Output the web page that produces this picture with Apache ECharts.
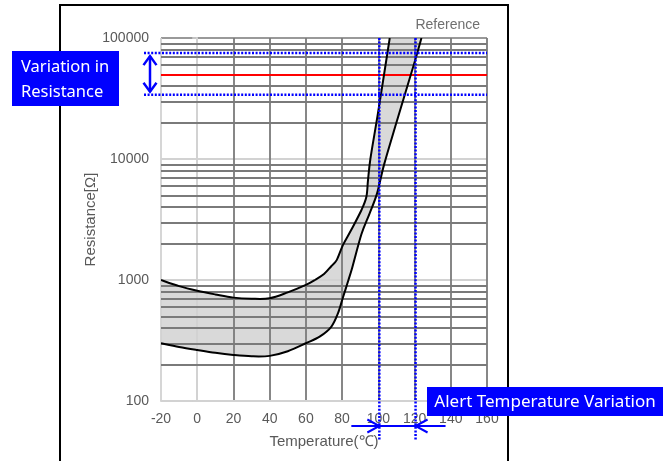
<!DOCTYPE html>
<html>
<head>
<meta charset="utf-8">
<script src="https://cdn.jsdelivr.net/npm/echarts@6/dist/echarts.min.js"></script>
<style>
html,body{margin:0;padding:0;background:#fff;}
#c{width:672px;height:461px;}
</style>
</head>
<body>
<div id="c"></div>
<script>
// ---- data ----
const xTicks = [-20, 0, 20, 40, 60, 80, 100, 120, 140, 160];
const yDecades = [100, 1000, 10000, 100000];
const yMinor = [200, 300, 400, 500, 600, 700, 800, 900,
                2000, 3000, 4000, 5000, 6000, 7000, 8000, 9000,
                20000, 30000, 40000, 50000, 60000, 70000, 80000, 90000];

// upper resistance limit curve (Temperature °C, Resistance Ω)
const upperT = [-20, -10, 0, 10, 20, 30, 40, 50, 60, 65, 70, 74, 77, 80.5, 85, 90.7, 93.4, 94.3, 95.6, 100, 106.3];
const upperR = [1000, 890, 815, 760, 715, 700, 706, 790, 910, 1000, 1120, 1300, 1460, 1950, 2590, 3790, 4870, 6700, 10000, 25000, 100000];

// lower resistance limit curve
const lowerT = [-20, -10, 0, 10, 20, 30, 40, 50, 60, 67.6, 74, 77.7, 80.5, 83.5, 85.5, 90.7, 95.2, 99.3, 103.1, 110, 120, 123.8];
const lowerR = [300, 280, 264, 250, 240, 234, 236, 258, 300, 340, 410, 530, 720, 1000, 1250, 2400, 3560, 5200, 8900, 20000, 63000, 100000];

const nominalR = 50000;                 // red reference line
const resistanceBand = [75000, 34000];  // blue dotted variation band
const alertTemps = [100, 120];          // blue dotted alert temperatures

// ---- helpers ----
function smoothPath(pts, start) {
  let d = (start ? 'M' : 'L') + pts[0][0] + ' ' + pts[0][1];
  const n = pts.length;
  for (let i = 0; i < n - 1; i++) {
    const p0 = pts[i - 1] || pts[i], p1 = pts[i], p2 = pts[i + 1], p3 = pts[i + 2] || pts[i + 1];
    const seg = Math.hypot(p2[0] - p1[0], p2[1] - p1[1]);
    let t1 = [(p2[0] - p0[0]) / 6, (p2[1] - p0[1]) / 6];
    let t2 = [(p3[0] - p1[0]) / 6, (p3[1] - p1[1]) / 6];
    const l1 = Math.hypot(t1[0], t1[1]), l2 = Math.hypot(t2[0], t2[1]);
    if (l1 > 0.4 * seg && l1 > 0) { const s = 0.4 * seg / l1; t1 = [t1[0] * s, t1[1] * s]; }
    if (l2 > 0.4 * seg && l2 > 0) { const s = 0.4 * seg / l2; t2 = [t2[0] * s, t2[1] * s]; }
    d += ' C' + (p1[0] + t1[0]) + ' ' + (p1[1] + t1[1]) + ' ' + (p2[0] - t2[0]) + ' ' + (p2[1] - t2[1]) + ' ' + p2[0] + ' ' + p2[1];
  }
  return d;
}

// ---- chart ----
const chart = echarts.init(document.getElementById('c'), null, {renderer: 'canvas'});
const G = {left: 161, right: 185, top: 38, bottom: 60};
const labelColor = '#595959';
const dark = '#7a7a7a';
const light = '#d2d2d2';
const font = 'Liberation Sans, Arial, sans-serif';

const xSplitColors = xTicks.map((t, i) => i === 0 ? light : dark);
const ySplitColors = yDecades.map((v, i) => i === yDecades.length - 1 ? '#999999' : light);

function curveSeries(name, T, R) {
  return {
    name: name, type: 'custom', z: 5, silent: true, clip: true,
    data: [[0, 1000]],
    renderItem: function (params, api) {
      const pts = T.map((t, i) => api.coord([t, R[i]]));
      return {type: 'path', shape: {pathData: smoothPath(pts, true)},
        style: {fill: null, stroke: '#000', lineWidth: 2}};
    }
  };
}

const option = {
  animation: false,
  backgroundColor: '#ffffff',
  grid: {left: G.left, right: G.right, top: G.top, bottom: G.bottom, containLabel: false, outerBoundsMode: 'none'},
  xAxis: {
    type: 'value', min: -20, max: 160, interval: 20, z: 3,
    axisLine: {show: true, onZero: false, lineStyle: {color: light, width: 2}},
    axisTick: {show: false},
    axisLabel: {color: labelColor, fontSize: 14, fontFamily: font, margin: 11},
    splitLine: {show: true, lineStyle: {color: xSplitColors, width: 1.8}},
    name: 'Temperature(℃)', nameLocation: 'middle', nameGap: 33,
    nameTextStyle: {color: labelColor, fontSize: 15, fontFamily: font}
  },
  yAxis: {
    type: 'log', logBase: 10, min: 100, max: 100000, z: 3,
    axisLine: {show: true, lineStyle: {color: light, width: 2}},
    axisTick: {show: true, length: 5, lineStyle: {color: light, width: 1.5}},
    axisLabel: {color: labelColor, fontSize: 14, fontFamily: font, margin: 12,
      formatter: v => String(Math.round(v))},
    splitLine: {show: true, lineStyle: {color: ySplitColors, width: 2}},
    name: 'Resistance[Ω]', nameLocation: 'middle', nameGap: 63,
    nameTextStyle: {color: labelColor, fontSize: 15, fontFamily: font}
  },
  series: [
    {
      name: 'band', type: 'custom', z: 1, silent: true, clip: true,
      data: [[0, 1000]],
      renderItem: function (params, api) {
        const up = upperT.map((t, i) => api.coord([t, upperR[i]]));
        const lo = lowerT.map((t, i) => api.coord([t, lowerR[i]])).reverse();
        return {type: 'path', shape: {pathData: smoothPath(up, true) + ' ' + smoothPath(lo, false) + ' Z'},
          style: {fill: '#d9d9d9', stroke: null}};
      }
    },
    {
      name: 'minorGrid', type: 'line', z: 3, data: [], silent: true,
      markLine: {
        silent: true, symbol: ['none', 'none'], animation: false,
        label: {show: false},
        lineStyle: {color: dark, width: 1.8, type: 'solid'},
        emphasis: {disabled: true},
        data: yMinor.map(v => ({yAxis: v}))
      }
    },
    curveSeries('upper', upperT, upperR),
    curveSeries('lower', lowerT, lowerR),
    {
      name: 'nominal', type: 'line', z: 4, data: [], silent: true,
      markLine: {
        silent: true, symbol: ['none', 'none'], animation: false,
        label: {show: false},
        lineStyle: {color: '#ff0000', width: 2, type: 'solid'},
        emphasis: {disabled: true},
        data: [{yAxis: nominalR}]
      }
    }
  ]
};
chart.setOption(option);

// ---- annotations positioned through the axes ----
const px = (t, r) => chart.convertToPixel({gridIndex: 0}, [t, r]);
const plotL = px(-20, 100)[0], plotR = px(160, 100)[0];
const plotT = px(-20, 100000)[1], plotB = px(-20, 100)[1];
const blue = '#0000ff';
const dotted = {stroke: blue, lineWidth: 2.5, lineDash: [2, 1.6], fill: null};
const solidBlue = {stroke: blue, lineWidth: 2, fill: null};
const g = [];

g.push({type: 'rect', z: 20, silent: true, shape: {x: 60, y: 5, width: 448, height: 480},
  style: {fill: null, stroke: '#000', lineWidth: 2}});

resistanceBand.forEach(r => {
  const y = px(0, r)[1];
  g.push({type: 'line', z: 21, silent: true, shape: {x1: plotL - 17, y1: y, x2: plotR, y2: y}, style: dotted});
});
alertTemps.forEach(t => {
  const x = px(t, 1000)[0] + 1;
  g.push({type: 'line', z: 21, silent: true, shape: {x1: x, y1: plotT, x2: x, y2: plotB + 39}, style: dotted});
});

// vertical double arrow for resistance variation
{
  const yTop = px(0, resistanceBand[0])[1] + 3, yBot = px(0, resistanceBand[1])[1] - 3;
  const ax = plotL - 11;
  g.push({type: 'line', z: 21, silent: true, shape: {x1: ax, y1: yTop, x2: ax, y2: yBot}, style: {stroke: blue, lineWidth: 2.5}});
  g.push({type: 'polyline', z: 21, silent: true, shape: {points: [[ax - 6.5, yTop + 9], [ax, yTop], [ax + 6.5, yTop + 9]]}, style: {stroke: blue, lineWidth: 2.5, fill: null}});
  g.push({type: 'polyline', z: 21, silent: true, shape: {points: [[ax - 6.5, yBot - 9], [ax, yBot], [ax + 6.5, yBot - 9]]}, style: {stroke: blue, lineWidth: 2.5, fill: null}});
}
// horizontal arrows for alert temperature variation
{
  const x1 = px(alertTemps[0], 1000)[0] + 1, x2 = px(alertTemps[1], 1000)[0] + 1;
  const ay = plotB + 25;
  g.push({type: 'line', z: 21, silent: true, shape: {x1: x1 - 28, y1: ay, x2: x2 + 30, y2: ay}, style: solidBlue});
  g.push({type: 'polyline', z: 21, silent: true, shape: {points: [[x1 - 12, ay - 6.5], [x1, ay], [x1 - 12, ay + 6.5]]}, style: solidBlue});
  g.push({type: 'polyline', z: 21, silent: true, shape: {points: [[x2 + 12, ay - 6.5], [x2, ay], [x2 + 12, ay + 6.5]]}, style: solidBlue});
}

// label boxes
const boxFont = '"Noto Sans", "DejaVu Sans", sans-serif';
g.push({type: 'rect', z: 22, silent: true, shape: {x: 12, y: 51, width: 107, height: 55}, style: {fill: blue}});
g.push({type: 'text', z: 23, silent: true, x: 21, y: 67,
  style: {text: 'Variation in', fill: '#fff', font: '16.5px ' + boxFont, verticalAlign: 'middle'}});
g.push({type: 'text', z: 23, silent: true, x: 21, y: 92,
  style: {text: 'Resistance', fill: '#fff', font: '16.5px ' + boxFont, verticalAlign: 'middle'}});

g.push({type: 'rect', z: 22, silent: true, shape: {x: 427, y: 387, width: 236, height: 29}, style: {fill: blue}});
g.push({type: 'text', z: 23, silent: true, x: 545, y: 402,
  style: {text: 'Alert Temperature Variation', fill: '#fff', font: '17px ' + boxFont, align: 'center', verticalAlign: 'middle'}});

g.push({type: 'text', z: 23, silent: true, x: 480, y: 25,
  style: {text: 'Reference', fill: '#707070', font: '14px "Liberation Sans", Arial, sans-serif', align: 'right', verticalAlign: 'middle'}});

chart.setOption({graphic: g});
</script>
</body>
</html>
